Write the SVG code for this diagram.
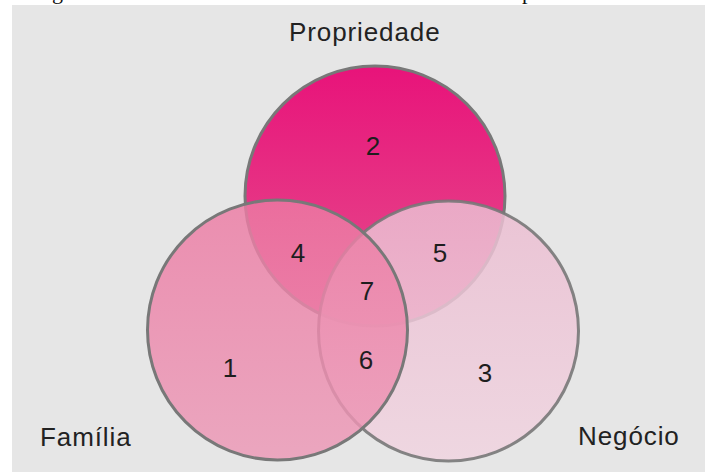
<svg xmlns="http://www.w3.org/2000/svg" width="705" height="472" viewBox="0 0 705 472">
  <style>
    .label { font-family: "Liberation Sans", Arial, sans-serif; font-size: 26px; fill: #222; letter-spacing: 0.9px; }
    .num { font-family: "Liberation Sans", Arial, sans-serif; font-size: 26px; fill: #1e1e1e; text-anchor: middle; }
    .ring { stroke: #787878; stroke-width: 3; }
    .cut { font-family: "Liberation Serif", "Times New Roman", serif; font-size: 22px; fill: #111; }
  </style>
  <defs>
    <linearGradient id="gTop" x1="0" y1="0" x2="0" y2="1">
      <stop offset="0" stop-color="#e8137a"/>
      <stop offset="1" stop-color="#e5508d"/>
    </linearGradient>
    <linearGradient id="gLeft" x1="0" y1="0" x2="0" y2="1">
      <stop offset="0" stop-color="#ec7aa3"/>
      <stop offset="1" stop-color="#ec98b6"/>
    </linearGradient>
    <linearGradient id="gRight" x1="0" y1="0" x2="0" y2="1">
      <stop offset="0" stop-color="#ebbdd1"/>
      <stop offset="1" stop-color="#f0d4e0"/>
    </linearGradient>
  </defs>

  <!-- page and panel -->
  <rect x="0" y="0" width="705" height="472" fill="#ffffff"/>
  <text class="cut" x="52" y="-1">g</text>
  <text class="cut" x="522" y="-1">p</text>
  <rect x="12" y="5" width="693" height="467" fill="#e6e6e6"/>

  <!-- set circles: drawn back to front -->
  <g id="propriedade">
    <circle class="ring" cx="375" cy="196" r="130" fill="url(#gTop)"/>
  </g>
  <g id="negocio">
    <circle class="ring" cx="448.5" cy="331" r="130" fill="url(#gRight)" fill-opacity="0.85" stroke-opacity="0.9"/>
  </g>
  <g id="familia">
    <circle class="ring" cx="277.5" cy="330" r="130" fill="url(#gLeft)" fill-opacity="0.82"/>
  </g>

  <!-- set labels -->
  <g id="set-labels">
    <text class="label" x="289" y="41">Propriedade</text>
    <text class="label" x="40" y="446">Família</text>
    <text class="label" x="578" y="445">Negócio</text>
  </g>

  <!-- region numbers -->
  <g id="regions">
    <text class="num" x="373" y="155">2</text>
    <text class="num" x="298" y="262">4</text>
    <text class="num" x="440" y="262">5</text>
    <text class="num" x="367" y="300">7</text>
    <text class="num" x="366" y="369">6</text>
    <text class="num" x="230" y="377">1</text>
    <text class="num" x="485" y="382">3</text>
  </g>
</svg>
